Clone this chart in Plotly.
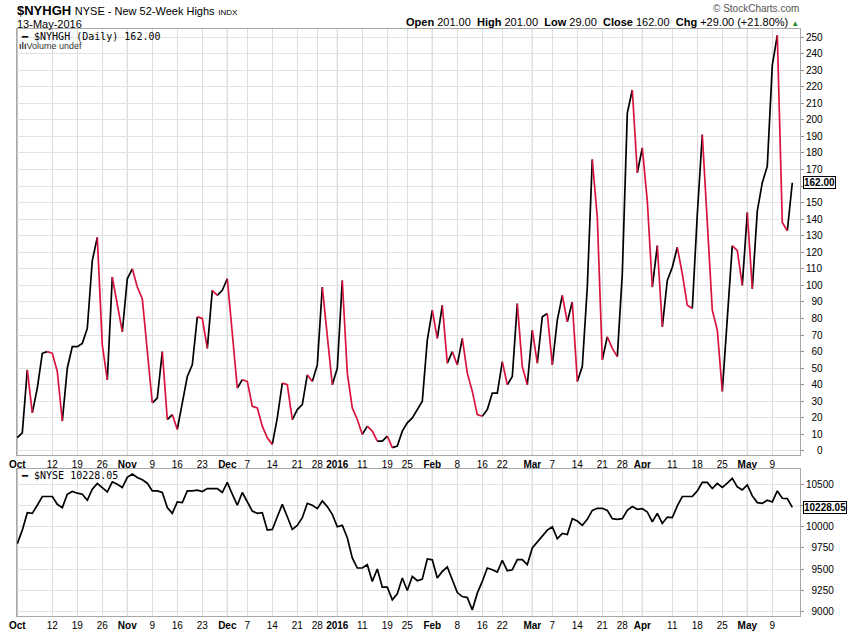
import plotly.graph_objects as go
import pandas as pd

# ---------------- data ----------------
holidays = ["2015-11-26", "2015-12-25", "2016-01-01", "2016-01-18", "2016-02-15", "2016-03-25"]
dates = [d.strftime("%Y-%m-%d") for d in pd.bdate_range("2015-10-01", "2016-05-13")
         if d.strftime("%Y-%m-%d") not in holidays]

nyhgh = [8, 11, 49, 23, 38, 59, 60, 59, 48, 18,
         50, 63, 63, 65, 74, 115, 129, 64, 43, 105,
         89, 72, 104, 110, 99, 92, 61, 29, 32, 60,
         19, 22, 13, 30, 45, 52, 81, 80, 62, 97,
         94, 97, 104, 71, 38, 43, 42, 27, 26, 15,
         8, 4, 20, 41, 40, 19, 25, 28, 46, 42,
         52, 99, 71, 40, 50, 103, 47, 26, 19, 10,
         15, 12, 6, 6, 9, 2, 3, 12, 17, 20,
         25, 30, 67, 85, 68, 88, 53, 60, 52, 68,
         47, 36, 22, 21, 25, 35, 35, 54, 40, 45,
         89, 51, 40, 73, 53, 81, 83, 52, 79, 94,
         78, 90, 42, 51, 99, 176, 141, 55, 69, 62,
         57, 107, 204, 218, 168, 183, 151, 99, 124, 75,
         103, 111, 123, 107, 88, 86, 143, 191, 139, 85,
         73, 36, 83, 124, 121, 100, 144, 98, 145, 162,
         172, 233, 251, 138, 133, 162]

nyse = [9800, 9960, 10166, 10158, 10253, 10356, 10356, 10356, 10264, 10225,
        10383, 10415, 10395, 10383, 10312, 10442, 10510, 10462, 10410, 10529,
        10501, 10462, 10581, 10620, 10581, 10553, 10513, 10422, 10422, 10403,
        10225, 10158, 10292, 10284, 10422, 10422, 10430, 10415, 10450, 10450,
        10450, 10403, 10522, 10383, 10253, 10403, 10292, 10185, 10158, 10166,
        9960, 9968, 10118, 10264, 10118, 9968, 10016, 10107, 10276, 10253,
        10213, 10304, 10237, 10146, 10000, 10016, 9870, 9633, 9514, 9514,
        9553, 9356, 9502, 9289, 9289, 9139, 9210, 9396, 9249, 9415,
        9364, 9383, 9620, 9610, 9396, 9474, 9526, 9376, 9225, 9178,
        9166, 9020, 9218, 9356, 9514, 9494, 9467, 9605, 9482, 9494,
        9613, 9613, 9553, 9751, 9818, 9889, 9960, 10000, 9858, 9921,
        9909, 10095, 10067, 10016, 10087, 10193, 10217, 10217, 10193, 10095,
        10087, 10095, 10193, 10237, 10205, 10213, 10174, 10059, 10158, 10039,
        10114, 10107, 10245, 10356, 10356, 10356, 10422, 10522, 10522, 10450,
        10510, 10462, 10513, 10569, 10470, 10434, 10493, 10363, 10284, 10276,
        10312, 10292, 10422, 10335, 10331, 10228.05]

tick_dates = ["2015-10-01", "2015-10-12", "2015-10-19", "2015-10-26", "2015-11-02", "2015-11-09",
              "2015-11-16", "2015-11-23", "2015-12-01", "2015-12-07", "2015-12-14", "2015-12-21",
              "2015-12-28", "2016-01-04", "2016-01-11", "2016-01-19", "2016-01-25", "2016-02-01",
              "2016-02-08", "2016-02-16", "2016-02-22", "2016-03-01", "2016-03-07", "2016-03-14",
              "2016-03-21", "2016-03-28", "2016-04-01", "2016-04-11", "2016-04-18", "2016-04-25",
              "2016-05-02", "2016-05-09"]
tick_labels = ["<b>Oct</b>", "12", "19", "26", "<b>Nov</b>", "9", "16", "23", "<b>Dec</b>", "7",
               "14", "21", "28", "<b>2016</b>", "11", "19", "25", "<b>Feb</b>", "8", "16", "22",
               "<b>Mar</b>", "7", "14", "21", "28", "<b>Apr</b>", "11", "18", "25", "<b>May</b>", "9"]
month_dates = ["2015-10-01", "2015-11-02", "2015-12-01", "2016-01-04", "2016-02-01",
               "2016-03-01", "2016-04-01", "2016-05-02"]

top_ticks = list(range(0, 251, 10))
bot_ticks = list(range(9000, 10501, 250))

header = {"Open": "201.00", "High": "201.00", "Low": "29.00"}

# ---------------- geometry helpers (pixel -> paper) ----------------
W, H = 850, 633
ML, MR, MT, MB = 17, 50, 29, 17
PW, PH = W - ML - MR, H - MT - MB


def X(px):
    return (px - ML) / PW


def Y(py):
    return (H - MB - py) / PH


FONT = "Liberation Sans, Arial, sans-serif"
MONO = "DejaVu Sans Mono, monospace"
RED = "#d8143c"

fig = go.Figure()

# direction-coloured line for $NYHGH
runs = {"up": ([], []), "down": ([], [])}
i = 0
n = len(nyhgh)
while i < n - 1:
    d = "down" if nyhgh[i + 1] < nyhgh[i] else "up"
    j = i
    while j < n - 1 and ("down" if nyhgh[j + 1] < nyhgh[j] else "up") == d:
        j += 1
    xs, ys = runs[d]
    xs.extend(dates[i:j + 1] + [None])
    ys.extend(nyhgh[i:j + 1] + [None])
    i = j

fig.add_trace(go.Scatter(x=dates, y=nyse, mode="lines",
                         line=dict(color="#000000", width=1.7), xaxis="x2", yaxis="y2",
                         hoverinfo="skip", showlegend=False))
fig.add_trace(go.Scatter(x=runs["up"][0], y=runs["up"][1], mode="lines",
                         line=dict(color="#000000", width=1.7), xaxis="x", yaxis="y",
                         hoverinfo="skip", showlegend=False))
fig.add_trace(go.Scatter(x=runs["down"][0], y=runs["down"][1], mode="lines",
                         line=dict(color=RED, width=1.7), xaxis="x", yaxis="y",
                         hoverinfo="skip", showlegend=False))

xrange = [-0.06, len(dates) - 1 + 1.54]
xcommon = dict(type="category", categoryorder="array", categoryarray=dates,
               range=xrange, tickmode="array", tickvals=tick_dates, tickangle=0,
               ticktext=tick_labels, showgrid=True, gridcolor="#dedede", gridwidth=1,
               showline=True, linecolor="#a8a8a8", mirror=True, ticks="", automargin=False,
               tickfont=dict(family=FONT, size=10, color="#000000"), zeroline=False)


def pad(v, width):
    s = str(v)
    return "\u00a0" * (2 * (width - len(s))) + s


def tick_texts(ticks, width, last_val):
    # the tick label hidden behind the last-value box is left blank
    near = min(ticks, key=lambda t: abs(t - last_val))
    return ["" if t == near else pad(t, width) for t in ticks]


fig.update_layout(
    width=W, height=H, margin=dict(l=ML, r=MR, t=MT, b=MB, autoexpand=False),
    paper_bgcolor="white", plot_bgcolor="white", showlegend=False,
    xaxis=dict(domain=[0, 1], anchor="y", **xcommon),
    xaxis2=dict(domain=[0, 1], anchor="y2", **xcommon),
    yaxis=dict(domain=[Y(455), 1], range=[-2.42, 254.83], side="right", tickmode="array",
               tickvals=top_ticks, ticktext=tick_texts(top_ticks, 3, nyhgh[-1]),
               showgrid=True, gridcolor="#e2e2e2", zeroline=False, showline=True,
               linecolor="#a8a8a8", mirror=True, ticks="outside", ticklen=3, automargin=False,
               tickcolor="#909090", tickfont=dict(family=FONT, size=10, color="#000")),
    yaxis2=dict(domain=[0, Y(469)], range=[8949, 10680], side="right", tickmode="array",
                tickvals=bot_ticks, ticktext=tick_texts(bot_ticks, 5, nyse[-1]),
                showgrid=True, gridcolor="#e2e2e2", zeroline=False, showline=True,
                linecolor="#a8a8a8", mirror=True, ticks="outside", ticklen=3, automargin=False,
                tickcolor="#909090", tickfont=dict(family=FONT, size=10, color="#000")),
)

# darker month separator lines
shapes = []
for md in month_dates:
    for xr, yr in (("x", "y domain"), ("x2", "y2 domain")):
        shapes.append(dict(type="line", xref=xr, yref=yr, x0=md, x1=md, y0=0, y1=1,
                           line=dict(color="#b4b4b4", width=1), layer="below"))
fig.update_layout(shapes=shapes)

last, prev = nyhgh[-1], nyhgh[-2]
chg = last - prev
pct = chg / prev * 100
nb = "\u00a0"
info = (f"<b>Open</b> {header['Open']}{nb}{nb}<b>High</b> {header['High']}{nb}{nb}"
        f"<b>Low</b> {header['Low']}{nb}{nb}<b>Close</b> {last:.2f}{nb}{nb}"
        f"<b>Chg</b> {chg:+.2f} ({pct:+.2f}%) <span style='color:#2e8b2e;font-size:8px'>▲</span>")

ann = [
    dict(x=X(15), y=Y(10), text="<b>$NYHGH</b> <span style='font-size:11px'>NYSE - New 52-Week Highs</span>"
         " <span style='font-size:8px'>INDX</span>",
         font=dict(family=FONT, size=13, color="#000")),
    dict(x=X(15), y=Y(24), text="13-May-2016", font=dict(family=FONT, size=11, color="#000")),
    dict(x=X(801), y=Y(22), text=info, xanchor="right", font=dict(family=FONT, size=11, color="#000")),
    dict(x=X(801), y=Y(8), text="© StockCharts.com", xanchor="right",
         font=dict(family=FONT, size=10, color="#555")),
    dict(x=X(19), y=Y(36), text=f"━ $NYHGH (Daily) {nyhgh[-1]:.2f}",
         font=dict(family=MONO, size=10, color="#000")),
    dict(x=X(17), y=Y(46), text="<b>ılı</b>Volume undef", font=dict(family=FONT, size=9, color="#333")),
    dict(x=X(19), y=Y(475), text=f"━ $NYSE {nyse[-1]:.2f}",
         font=dict(family=MONO, size=10, color="#000")),
    dict(x=1, y=nyhgh[-1], yref="y", xshift=3, text=f"<b>{nyhgh[-1]:.2f}</b>",
         bordercolor="#000", borderwidth=1, borderpad=0, bgcolor="white",
         font=dict(family=FONT, size=10, color="#000")),
    dict(x=1, y=nyse[-1], yref="y2", xshift=3, text=f"<b>{nyse[-1]:.2f}</b>",
         bordercolor="#000", borderwidth=1, borderpad=0, bgcolor="white",
         font=dict(family=FONT, size=10, color="#000")),
]
for a in ann:
    a.setdefault("xref", "paper")
    a.setdefault("yref", "paper")
    a.setdefault("xanchor", "left")
    a.setdefault("yanchor", "middle")
    a["showarrow"] = False
fig.update_layout(annotations=ann)

fig.write_html("out.html")
